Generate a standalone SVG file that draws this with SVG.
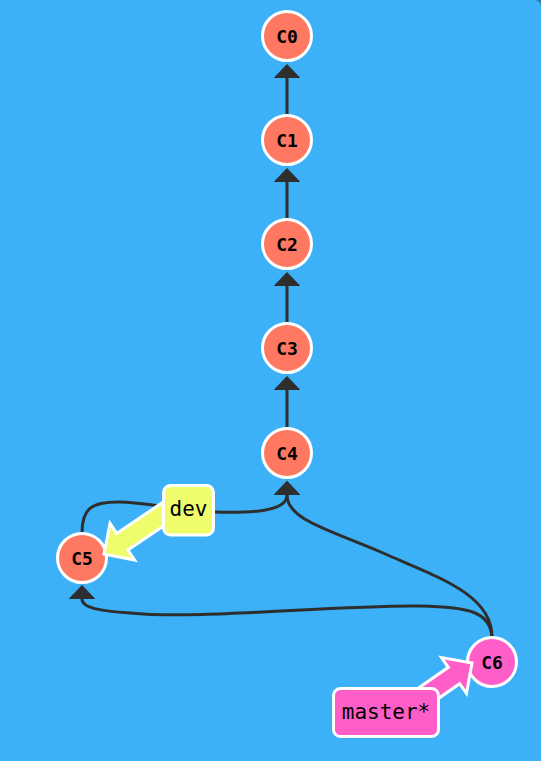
<svg xmlns="http://www.w3.org/2000/svg" width="541" height="761" viewBox="0 0 541 761">
<style>
.edge{fill:none;stroke:#2e2e2e;stroke-width:3}
.commit{fill:#ff7862;stroke:#fff;stroke-width:3}
.commit.head{fill:#ff5ec8}
.ctext{font-family:"DejaVu Sans Mono","Liberation Mono",monospace;font-weight:bold;font-size:18px;fill:#000;text-anchor:middle}
.ltext{font-family:"DejaVu Sans Mono","Liberation Mono",monospace;font-size:21px;fill:#000;text-anchor:middle}
.barrow{stroke:#fff;stroke-width:3;stroke-linejoin:miter}
.lbox{stroke:#fff;stroke-width:3}
</style>
<defs>
<marker id="ah" markerUnits="userSpaceOnUse" viewBox="0 0 14 26" markerWidth="14" markerHeight="26" refX="0" refY="13" orient="auto">
<path d="M0.5,0.5 L13.5,13 L0.5,25.5 Z" fill="#2e2e2e" stroke="#2e2e2e" stroke-width="1" stroke-linejoin="round"/>
</marker>
</defs>
<rect x="0" y="0" width="541" height="761" fill="#3db1f7"/>
<path d="M534,0 A7,7 0 0 1 541,7 L541,0 Z" fill="#1f5f8a" opacity="0.6"/>
<g id="connectors">
<path class="edge" marker-end="url(#ah)" d="M287,115 L287,78"/>
<path class="edge" marker-end="url(#ah)" d="M287,219 L287,182"/>
<path class="edge" marker-end="url(#ah)" d="M287,323 L287,286"/>
<path class="edge" marker-end="url(#ah)" d="M287,428 L287,390"/>
<path class="edge" marker-end="url(#ah)" d="M82,533 C82,508 92,502 118,502 C150,502 175,511 215,512 C250,513 287,512 287,495"/>
<path class="edge" marker-end="url(#ah)" d="M492,637 C492,595 440,578 383,553 C330,530 287,520 287,495"/>
<path class="edge" marker-end="url(#ah)" d="M492,637 C490,612 470,607 420,606 C330,605 200,620 130,613 C100,611 82,608 82,599"/>
</g>
<g id="C0"><circle class="commit" cx="287" cy="36" r="24.5"/><text class="ctext" x="287" y="42.5">C0</text></g>
<g id="C1"><circle class="commit" cx="287" cy="140" r="24.5"/><text class="ctext" x="287" y="146.5">C1</text></g>
<g id="C2"><circle class="commit" cx="287" cy="244" r="24.5"/><text class="ctext" x="287" y="250.5">C2</text></g>
<g id="C3"><circle class="commit" cx="287" cy="348" r="24.5"/><text class="ctext" x="287" y="354.5">C3</text></g>
<g id="C4"><circle class="commit" cx="287" cy="453" r="24.5"/><text class="ctext" x="287" y="459.5">C4</text></g>
<g id="C5"><circle class="commit" cx="82" cy="558" r="24.5"/><text class="ctext" x="82" y="564.5">C5</text></g>
<g id="C6"><circle class="commit head" cx="492" cy="662" r="24.5"/><text class="ctext" x="492" y="668.5">C6</text></g>
<g id="dev">
<path class="barrow" fill="#effd6c" d="M166.5,499.8 L116.7,533.4 L110,523.4 L104,554 L134.6,560 L127.9,550 L177.7,516.4 Z"/>
<rect class="lbox" fill="#effd6c" x="163.5" y="485.5" width="50" height="49.5" rx="7"/>
<text class="ltext" x="188.5" y="515.5">dev</text>
</g>
<g id="master">
<path class="barrow" fill="#ff5ec8" d="M390.9,707.2 L448.3,667.3 L441.5,657.5 L472,663 L466.5,693.5 L459.7,683.7 L402.3,723.6 Z"/>
<rect class="lbox" fill="#ff5ec8" x="333.5" y="688.5" width="105" height="48" rx="7"/>
<text class="ltext" x="386" y="719">master*</text>
</g>
</svg>
